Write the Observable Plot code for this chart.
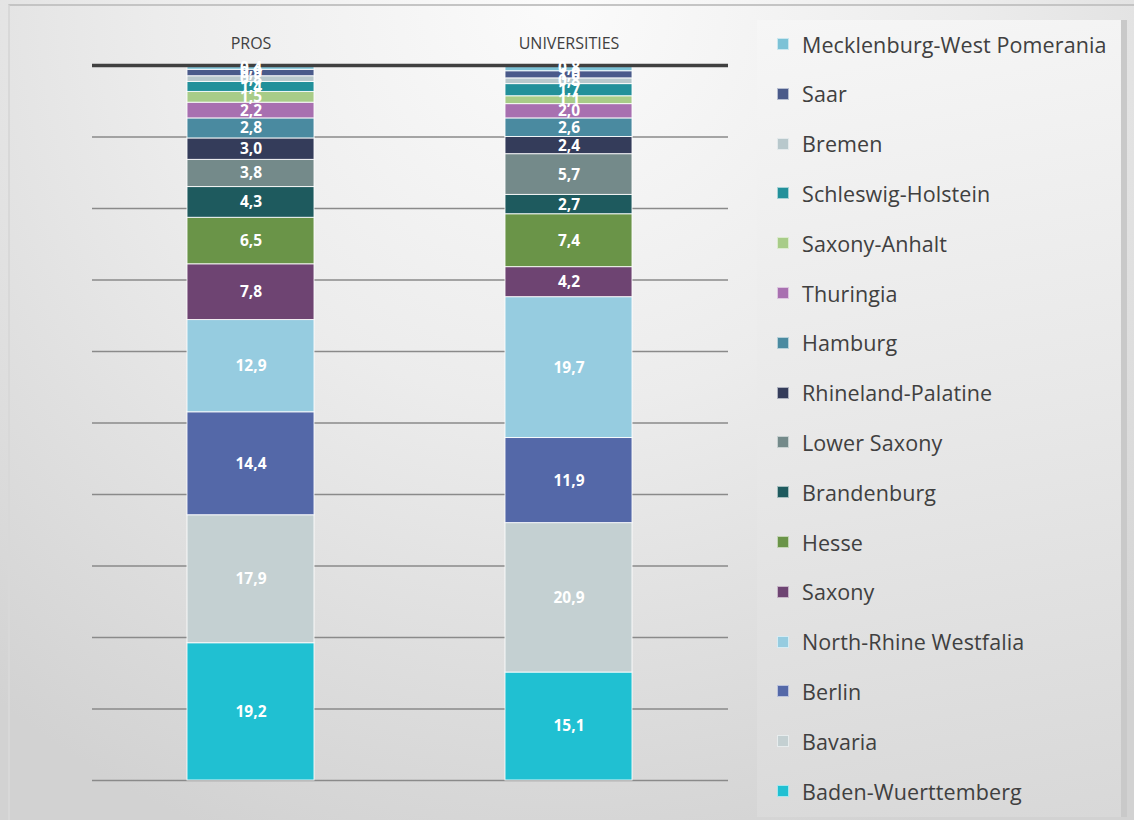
<!DOCTYPE html>
<html>
<head>
<meta charset="utf-8">
<script src="https://cdn.jsdelivr.net/npm/d3@7"></script>
<script src="https://cdn.jsdelivr.net/npm/@observablehq/plot@0.6"></script>
<style>
  html, body { margin: 0; padding: 0; }
  body { width: 1134px; height: 820px; overflow: hidden; font-family: "Open Sans", "Noto Sans", sans-serif; }
  #wrap { position: relative; width: 1134px; height: 820px;
    background: radial-gradient(ellipse 900px 900px at 560px 0px, #fbfbfb 0%, #ececec 45%, #d2d2d2 100%); }
  #frame { position: absolute; left: 8px; top: 4px; right: 0; bottom: 0; border-top: 2px solid #c4c4c4; border-left: 2px solid #d8d8d8; }
  #chart { position: absolute; left: 0; top: 0; }
  #legend { position: absolute; left: 757px; top: 20px; width: 370px; height: 797px;
    background: linear-gradient(170deg, #f6f6f6 0%, #e8e8e8 50%, #d8d8d8 100%);
    border-right: 6px solid #c9c9c9; box-sizing: border-box; }
  .item { position: absolute; left: 20px; height: 26px; display: flex; align-items: center;
    font-size: 21.5px; color: #404040; white-space: nowrap; letter-spacing: 0.1px; }
  .sw { width: 12px; height: 12px; margin-right: 13px; box-sizing: border-box; border: 1px solid rgba(255,255,255,0.6); }
</style>
</head>
<body>
<div id="wrap">
  <div id="frame"></div>
  <div id="chart"></div>
  <div id="legend"></div>
</div>
<script>
// Categories
const groups = ["PROS", "UNIVERSITIES"];
// States, bottom of stack first
const states = ["Baden-Wuerttemberg", "Bavaria", "Berlin", "North-Rhine Westfalia", "Saxony", "Hesse",
  "Brandenburg", "Lower Saxony", "Rhineland-Palatine", "Hamburg", "Thuringia", "Saxony-Anhalt",
  "Schleswig-Holstein", "Bremen", "Saar", "Mecklenburg-West Pomerania"];
const prosValues = [19.2, 17.9, 14.4, 12.9, 7.8, 6.5, 4.3, 3.8, 3.0, 2.8, 2.2, 1.5, 1.4, 0.8, 0.9, 0.4];
const uniValues  = [15.1, 20.9, 11.9, 19.7, 4.2, 7.4, 2.7, 5.7, 2.4, 2.6, 2.0, 1.1, 1.7, 0.8, 1.0, 0.8];
const colors = ["#20c0d2", "#c4d0d2", "#5468a8", "#96cce0", "#6e4472", "#6a9448", "#1e5a5e", "#748a8a",
  "#343c5a", "#4a8aa0", "#a870b0", "#a8cc88", "#22909a", "#b8c8cc", "#4a5a8a", "#7cc2d6"];
const gridTicks = [0, 10, 20, 30, 40, 50, 60, 70, 80, 90];
const topTick = [100];

const data = [];
groups.forEach((g, gi) => {
  const vals = gi === 0 ? prosValues : uniValues;
  states.forEach((s, i) => data.push({group: g, state: s, value: vals[i]}));
});
const fmt = v => d3.format(".1f")(v).replace(".", ",");

const plot = Plot.plot({
  width: 1134,
  height: 820,
  marginLeft: 92,
  marginRight: 406,
  marginTop: 65,
  marginBottom: 40,
  style: {background: "transparent", fontFamily: "'Open Sans', 'Noto Sans', sans-serif"},
  x: {domain: groups, paddingInner: 0.6, paddingOuter: 0.3, axis: "top", tickSize: 0, tickPadding: 17, label: null},
  y: {domain: [0, 100], axis: null},
  color: {domain: states, range: colors},
  marks: [
    Plot.ruleY(gridTicks, {stroke: "#8a8a8a", strokeWidth: 1.5}),
    Plot.barY(data, Plot.stackY({x: "group", y: "value", z: "state", fill: "state", stroke: "white", strokeOpacity: 0.85, strokeWidth: 1})),
    Plot.ruleY(topTick, {stroke: "#404040", strokeWidth: 3.5}),
    Plot.text(data, Plot.stackY({x: "group", y: "value", z: "state", text: d => fmt(d.value), fill: "white", fontWeight: "bold", fontSize: 15.5})),
  ]
});
const ax = plot.querySelector("[aria-label='x-axis tick label']");
if (ax) { ax.style.fontSize = "16px"; ax.setAttribute("fill", "#404040"); }
document.getElementById("chart").appendChild(plot);

// Legend: top item is last state
const legend = document.getElementById("legend");
const legendOrder = states.slice().reverse();
legendOrder.forEach((s, i) => {
  const idx = states.indexOf(s);
  const div = document.createElement("div");
  div.className = "item";
  div.style.top = (11 + i * 49.8) + "px";
  const sw = document.createElement("div");
  sw.className = "sw";
  sw.style.background = colors[idx];
  const tx = document.createElement("span");
  tx.textContent = s;
  div.appendChild(sw); div.appendChild(tx);
  legend.appendChild(div);
});
</script>
</body>
</html>
